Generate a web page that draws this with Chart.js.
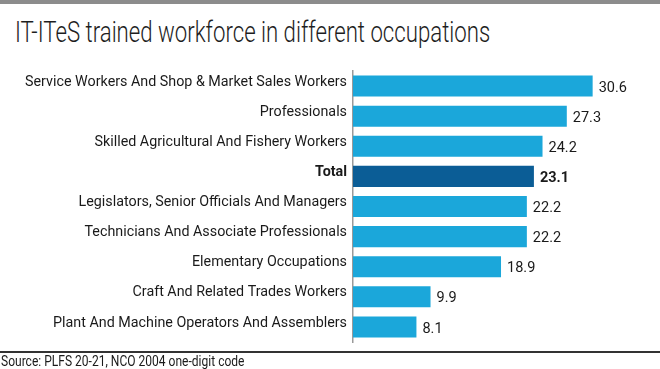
<!DOCTYPE html>
<html>
<head>
<meta charset="utf-8">
<script src="https://cdn.jsdelivr.net/npm/chart.js@4.4.0/dist/chart.umd.min.js"></script>
<style>
  html, body { margin: 0; padding: 0; background: #fff; }
  #wrap { position: relative; width: 660px; height: 369px; overflow: hidden; }
  #topbar { position: absolute; left: 0; top: 0; width: 660px; height: 4px; background: #8c8c8c; }
  #title {
    position: absolute; left: 15px; top: 14px; white-space: nowrap;
    font-family: Roboto, sans-serif; font-weight: 300; font-size: 30px; color: #1e1e1e;
    transform: scaleX(0.74); transform-origin: left top;
  }
  #chart { position: absolute; left: 0; top: 0; }
  #rule { position: absolute; left: 0; top: 351px; width: 660px; height: 2px; background: #333; }
  #source {
    position: absolute; left: 1px; top: 353px; white-space: nowrap;
    font-family: Roboto, sans-serif; font-size: 14px; color: #1a1a1a;
    transform: scaleX(0.86); transform-origin: left top;
  }
</style>
</head>
<body>
<div id="wrap">
  <div id="topbar"></div>
  <div id="title">IT-ITeS trained workforce in different occupations</div>
  <canvas id="chart" width="660" height="369"></canvas>
  <div id="rule"></div>
  <div id="source">Source: PLFS 20-21, NCO 2004 one-digit code</div>
</div>
<script>
// Data
const occupations = [
    'Service Workers And Shop & Market Sales Workers',
    'Professionals',
    'Skilled Agricultural And Fishery Workers',
    'Total',
    'Legislators, Senior Officials And Managers',
    'Technicians And Associate Professionals',
    'Elementary Occupations',
    'Craft And Related Trades Workers',
    'Plant And Machine Operators And Assemblers'
];
const shares = [30.6, 27.3, 24.2, 23.1, 22.2, 22.2, 18.9, 9.9, 8.1];
const highlight = 'Total';

const lightBlue = '#1ba7da';
const darkBlue = '#0b5d96';

// Value labels at the end of each bar
const valueLabels = {
    id: 'valueLabels',
    afterDatasetsDraw(chart) {
        const ctx = chart.ctx;
        const meta = chart.getDatasetMeta(0);
        ctx.save();
        ctx.textBaseline = 'middle';
        ctx.fillStyle = '#1a1a1a';
        meta.data.forEach((bar, i) => {
            const bold = occupations[i] === highlight;
            ctx.font = (bold ? 'bold ' : '') + '14.5px Roboto, sans-serif';
            ctx.fillText(shares[i].toFixed(1), bar.x + 6, bar.y + 2);
        });
        ctx.restore();
    }
};

new Chart(document.getElementById('chart'), {
    type: 'bar',
    data: {
        labels: occupations,
        datasets: [{
            data: shares,
            backgroundColor: occupations.map(o => o === highlight ? darkBlue : lightBlue),
            borderWidth: 0,
            barPercentage: 0.7,
            categoryPercentage: 1
        }]
    },
    options: {
        indexAxis: 'y',
        responsive: false,
        animation: false,
        devicePixelRatio: 1,
        layout: { padding: { top: 71, bottom: 27, left: 0, right: 0 } },
        scales: {
            x: { display: false, min: 0, max: 39.2 },
            y: {
                afterFit: s => { s.width = 353; },
                grid: { display: false, drawTicks: false },
                border: { display: true, color: '#9a9a9a', width: 1.5 },
                ticks: {
                    padding: 6,
                    labelOffset: -4,
                    color: '#1a1a1a',
                    font: ctx => ({
                        family: 'Roboto, sans-serif',
                        size: 14.3,
                        weight: occupations[ctx.index] === highlight ? 'bold' : 'normal'
                    })
                }
            }
        },
        plugins: {
            legend: { display: false },
            tooltip: { enabled: false }
        }
    },
    plugins: [valueLabels]
});
</script>
</body>
</html>
